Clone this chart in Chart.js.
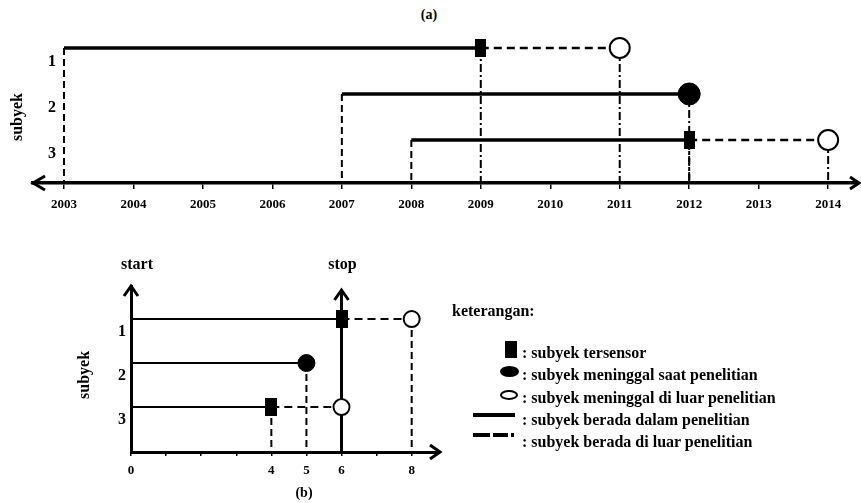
<!DOCTYPE html>
<html>
<head>
<meta charset="utf-8">
<script src="https://cdn.jsdelivr.net/npm/chart.js@4.4.0/dist/chart.umd.min.js"></script>
<style>
  body { margin: 0; background: #fff; width: 861px; height: 503px; position: relative; overflow: hidden;
         font-family: 'Liberation Serif', 'Times New Roman', serif; font-weight: bold; color: #000; }
  canvas { position: absolute; }
  .c { position: absolute; transform: translate(-50%, -50%); white-space: nowrap; line-height: 1; }
  .l { position: absolute; transform: translateY(-50%); white-space: nowrap; line-height: 1; font-size: 16px; }
  .ico { position: absolute; box-sizing: content-box; }
</style>
</head>
<body>
<div class="c" style="left:429px;top:15px;font-size:14px">(a)</div>
<canvas id="chartA" width="861" height="225" style="left:0;top:0"></canvas>
<canvas id="chartB" width="400" height="250" style="left:60px;top:250px"></canvas>
<div class="c" style="left:304px;top:493px;font-size:14px">(b)</div>

<!-- keterangan -->
<div class="l" style="left:452px;top:311px">keterangan:</div>
<div class="ico" style="left:505px;top:341px;width:12px;height:17px;background:#000"></div>
<div class="ico" style="left:500px;top:366px;width:19px;height:11px;background:#000;border-radius:50%"></div>
<div class="ico" style="left:500px;top:390px;width:14px;height:6px;border:2.5px solid #000;border-radius:50%"></div>
<div class="ico" style="left:473px;top:413px;width:42px;height:4px;background:#000"></div>
<div class="ico" style="left:473px;top:433px;width:17px;height:4px;background:#000"></div>
<div class="ico" style="left:493px;top:433px;width:15px;height:4px;background:#000"></div>
<div class="ico" style="left:511px;top:433px;width:3px;height:4px;background:#000"></div>
<div class="l" style="left:522px;top:353px">: subyek tersensor</div>
<div class="l" style="left:522px;top:375px">: subyek meninggal saat penelitian</div>
<div class="l" style="left:522px;top:398px">: subyek meninggal di luar penelitian</div>
<div class="l" style="left:522px;top:420px">: subyek berada dalam penelitian</div>
<div class="l" style="left:522px;top:442px">: subyek berada di luar penelitian</div>

<script>
// ---- data (a): calendar time ----
const subjectsA = [1, 2, 3];
const yearTicks = [2003, 2004, 2005, 2006, 2007, 2008, 2009, 2010, 2011, 2012, 2013, 2014];
const startA = [2003, 2007, 2008];   // masuk penelitian
const stopA = [2009, 2012, 2012];    // akhir pengamatan
const endA = [2011, 2012, 2014];     // meninggal
const statusA = ['sensor', 'mati', 'sensor'];

// ---- data (b): study time ----
const subjectsB = [1, 2, 3];
const tickValuesB = [0, 1, 2, 3, 4, 5, 6, 7, 8];
const tickLabelsB = ['0', '', '', '', '4', '5', '6', '', '8'];
const startB = [0, 0, 0];
const stopB = [6, 5, 4];
const endB = [8, 5, 6];
const statusB = ['sensor', 'mati', 'sensor'];
const studyStopB = 6;

Chart.defaults.font.family = "'Liberation Serif', 'Times New Roman', serif";
Chart.defaults.font.weight = 'bold';
Chart.defaults.color = '#000';

// marker images for the (tall) rectangles
const makeRect = (w, h) => {
  const c = document.createElement('canvas');
  c.width = w; c.height = h;
  const g = c.getContext('2d');
  g.fillStyle = '#000';
  g.fillRect(0, 0, w, h);
  return c;
};

const seg = (pts, width, dash) => ({
  type: 'line', data: pts, borderColor: '#000', borderWidth: width, borderDash: dash,
  pointRadius: 0, fill: false, tension: 0, order: 1
});

const marker = (pt, style) => Object.assign({
  type: 'line', data: [pt], showLine: false, order: 0
}, style);

// build all segments and markers for one panel
const buildDatasets = (subjects, start, stop, end, status, yBottom, st) => {
  const ds = [];
  subjects.forEach((s, i) => {
    ds.push(seg([{x: start[i], y: s}, {x: stop[i], y: s}], st.solidWidth, []));
    if (st.startDrop) ds.push(seg([{x: start[i], y: s}, {x: start[i], y: yBottom}], 2, st.startDash));
    if (status[i] === 'sensor') {
      ds.push(seg([{x: stop[i], y: s}, {x: end[i], y: s}], st.dashWidth, st.hDash));
      [stop[i], end[i]].forEach(x => {
        if (x !== st.skipX) ds.push(seg([{x: x, y: s}, {x: x, y: yBottom}], 2, st.endDash));
      });
      ds.push(marker({x: stop[i], y: s}, {pointStyle: st.rect, pointRadius: 9}));
      ds.push(marker({x: end[i], y: s}, {pointStyle: 'circle', pointRadius: st.openR,
        pointBackgroundColor: '#fff', pointBorderColor: '#000', pointBorderWidth: 2}));
    } else {
      if (stop[i] !== st.skipX) ds.push(seg([{x: stop[i], y: s}, {x: stop[i], y: yBottom}], 2, st.endDash));
      ds.push(marker({x: stop[i], y: s}, {pointStyle: 'circle', pointRadius: st.fullR,
        pointBackgroundColor: '#000', pointBorderColor: '#000', pointBorderWidth: 1}));
    }
  });
  return ds;
};

const chevron = (ctx, x, y, dir, back, spread) => {
  ctx.save();
  ctx.strokeStyle = '#000';
  ctx.lineWidth = 3;
  ctx.beginPath();
  if (dir === 'left') { ctx.moveTo(x + back, y - spread); ctx.lineTo(x, y); ctx.lineTo(x + back, y + spread); }
  if (dir === 'right') { ctx.moveTo(x - back, y - spread); ctx.lineTo(x, y); ctx.lineTo(x - back, y + spread); }
  if (dir === 'up') { ctx.moveTo(x - spread, y + back); ctx.lineTo(x, y); ctx.lineTo(x + spread, y + back); }
  ctx.stroke();
  ctx.restore();
};

const rotatedText = (ctx, text, x, y, size) => {
  ctx.save();
  ctx.translate(x, y);
  ctx.rotate(-Math.PI / 2);
  ctx.font = 'bold ' + size + "px 'Liberation Serif', serif";
  ctx.fillStyle = '#000';
  ctx.textAlign = 'center';
  ctx.textBaseline = 'middle';
  ctx.fillText(text, 0, 0);
  ctx.restore();
};

// fixed axis size, no extra label padding
const fixHeight = h => s => { s.height = h; s.paddingLeft = 0; s.paddingRight = 0; };

// ---------- chart (a) ----------
const yMaxA = 3.935;
new Chart(document.getElementById('chartA'), {
  type: 'line',
  data: {
    datasets: buildDatasets(subjectsA, startA, stopA, endA, statusA, yMaxA, {
      solidWidth: 3.5, dashWidth: 2.5, hDash: [8, 5], startDrop: true, startDash: [7, 4],
      endDash: [8, 3, 2, 3], rect: makeRect(11, 18), openR: 10, fullR: 11, skipX: null
    })
  },
  options: {
    responsive: false, animation: false, devicePixelRatio: 1,
    layout: { autoPadding: false, padding: { left: 0, right: 3, top: 25, bottom: 2 } },
    plugins: { legend: { display: false }, tooltip: { enabled: false } },
    scales: {
      x: {
        type: 'linear', min: 2002.554, max: 2014.43,
        afterBuildTicks: s => { s.ticks = yearTicks.map(v => ({ value: v })); },
        afterFit: fixHeight(40),
        ticks: { font: { size: 13, weight: 'bold' }, padding: 8, maxRotation: 0, autoSkip: false,
                 callback: v => String(v) },
        grid: { drawOnChartArea: false, tickLength: 6, color: '#000', lineWidth: 1.5 },
        border: { display: true, color: '#000', width: 3.5 }
      },
      y: {
        type: 'linear', reverse: true, min: 0.5, max: yMaxA,
        afterBuildTicks: s => { s.ticks = subjectsA.map(v => ({ value: v })); },
        afterFit: s => { s.width = 33; },
        ticks: { mirror: true, padding: 15, labelOffset: 14, font: { size: 16, weight: 'bold' } },
        grid: { display: false, drawTicks: false },
        border: { display: false }
      }
    }
  },
  plugins: [{
    id: 'arrowsA',
    afterDraw(chart) {
      const { ctx, chartArea: a, scales } = chart;
      chevron(ctx, a.left, a.bottom, 'left', 12, 7);
      chevron(ctx, a.right + 1, a.bottom, 'right', 9, 6);
      rotatedText(ctx, 'subyek', 18, scales.y.getPixelForValue(2.5), 16);
    }
  }]
});

// ---------- chart (b) ----------
const yMaxB = 4.02;
new Chart(document.getElementById('chartB'), {
  type: 'line',
  data: {
    datasets: buildDatasets(subjectsB, startB, stopB, endB, statusB, yMaxB, {
      solidWidth: 2, dashWidth: 2, hDash: [8, 5], startDrop: false, startDash: [],
      endDash: [7, 4], rect: makeRect(12, 18), openR: 8, fullR: 8.5, skipX: studyStopB
    })
  },
  options: {
    responsive: false, animation: false, devicePixelRatio: 1,
    layout: { autoPadding: false, padding: { left: 30, right: 22, top: 36, bottom: 8 } },
    plugins: { legend: { display: false }, tooltip: { enabled: false } },
    scales: {
      x: {
        type: 'linear', min: 0, max: 8.75,
        afterBuildTicks: s => { s.ticks = tickValuesB.map(v => ({ value: v })); },
        afterFit: fixHeight(40),
        ticks: { font: { size: 13, weight: 'bold' }, padding: 7, maxRotation: 0, autoSkip: false,
                 callback: v => tickLabelsB[tickValuesB.indexOf(v)] },
        grid: { drawOnChartArea: false, tickLength: 4, color: '#000', lineWidth: 1.5 },
        border: { display: true, color: '#000', width: 3 }
      },
      y: {
        type: 'linear', reverse: true, min: 0.25, max: yMaxB,
        afterBuildTicks: s => { s.ticks = subjectsB.map(v => ({ value: v })); },
        afterFit: s => { s.width = 41; },
        ticks: { padding: 5, labelOffset: 13, font: { size: 16, weight: 'bold' } },
        grid: { display: false, drawTicks: false },
        border: { display: true, color: '#000', width: 3 }
      }
    }
  },
  plugins: [{
    id: 'arrowsB',
    beforeDatasetsDraw(chart) {
      const { ctx, chartArea: a, scales } = chart;
      const sx = scales.x.getPixelForValue(studyStopB);
      ctx.save();
      ctx.strokeStyle = '#000';
      ctx.lineWidth = 3;
      ctx.beginPath();
      ctx.moveTo(sx, a.top + 4);
      ctx.lineTo(sx, a.bottom);
      ctx.stroke();
      ctx.restore();
    },
    afterDraw(chart) {
      const { ctx, chartArea: a, scales } = chart;
      const sx = scales.x.getPixelForValue(studyStopB);
      chevron(ctx, a.left, a.top, 'up', 10, 7);
      chevron(ctx, sx, a.top + 4, 'up', 10, 7);
      chevron(ctx, a.right + 2, a.bottom, 'right', 10, 7);
      ctx.save();
      ctx.font = "bold 16px 'Liberation Serif', serif";
      ctx.fillStyle = '#000';
      ctx.textAlign = 'center';
      ctx.textBaseline = 'middle';
      ctx.fillText('start', scales.x.getPixelForValue(0) + 6, a.top - 21);
      ctx.fillText('stop', sx + 1, a.top - 21);
      ctx.restore();
      rotatedText(ctx, 'subyek', 25, scales.y.getPixelForValue(2.27), 16);
    }
  }]
});
</script>
</body>
</html>
